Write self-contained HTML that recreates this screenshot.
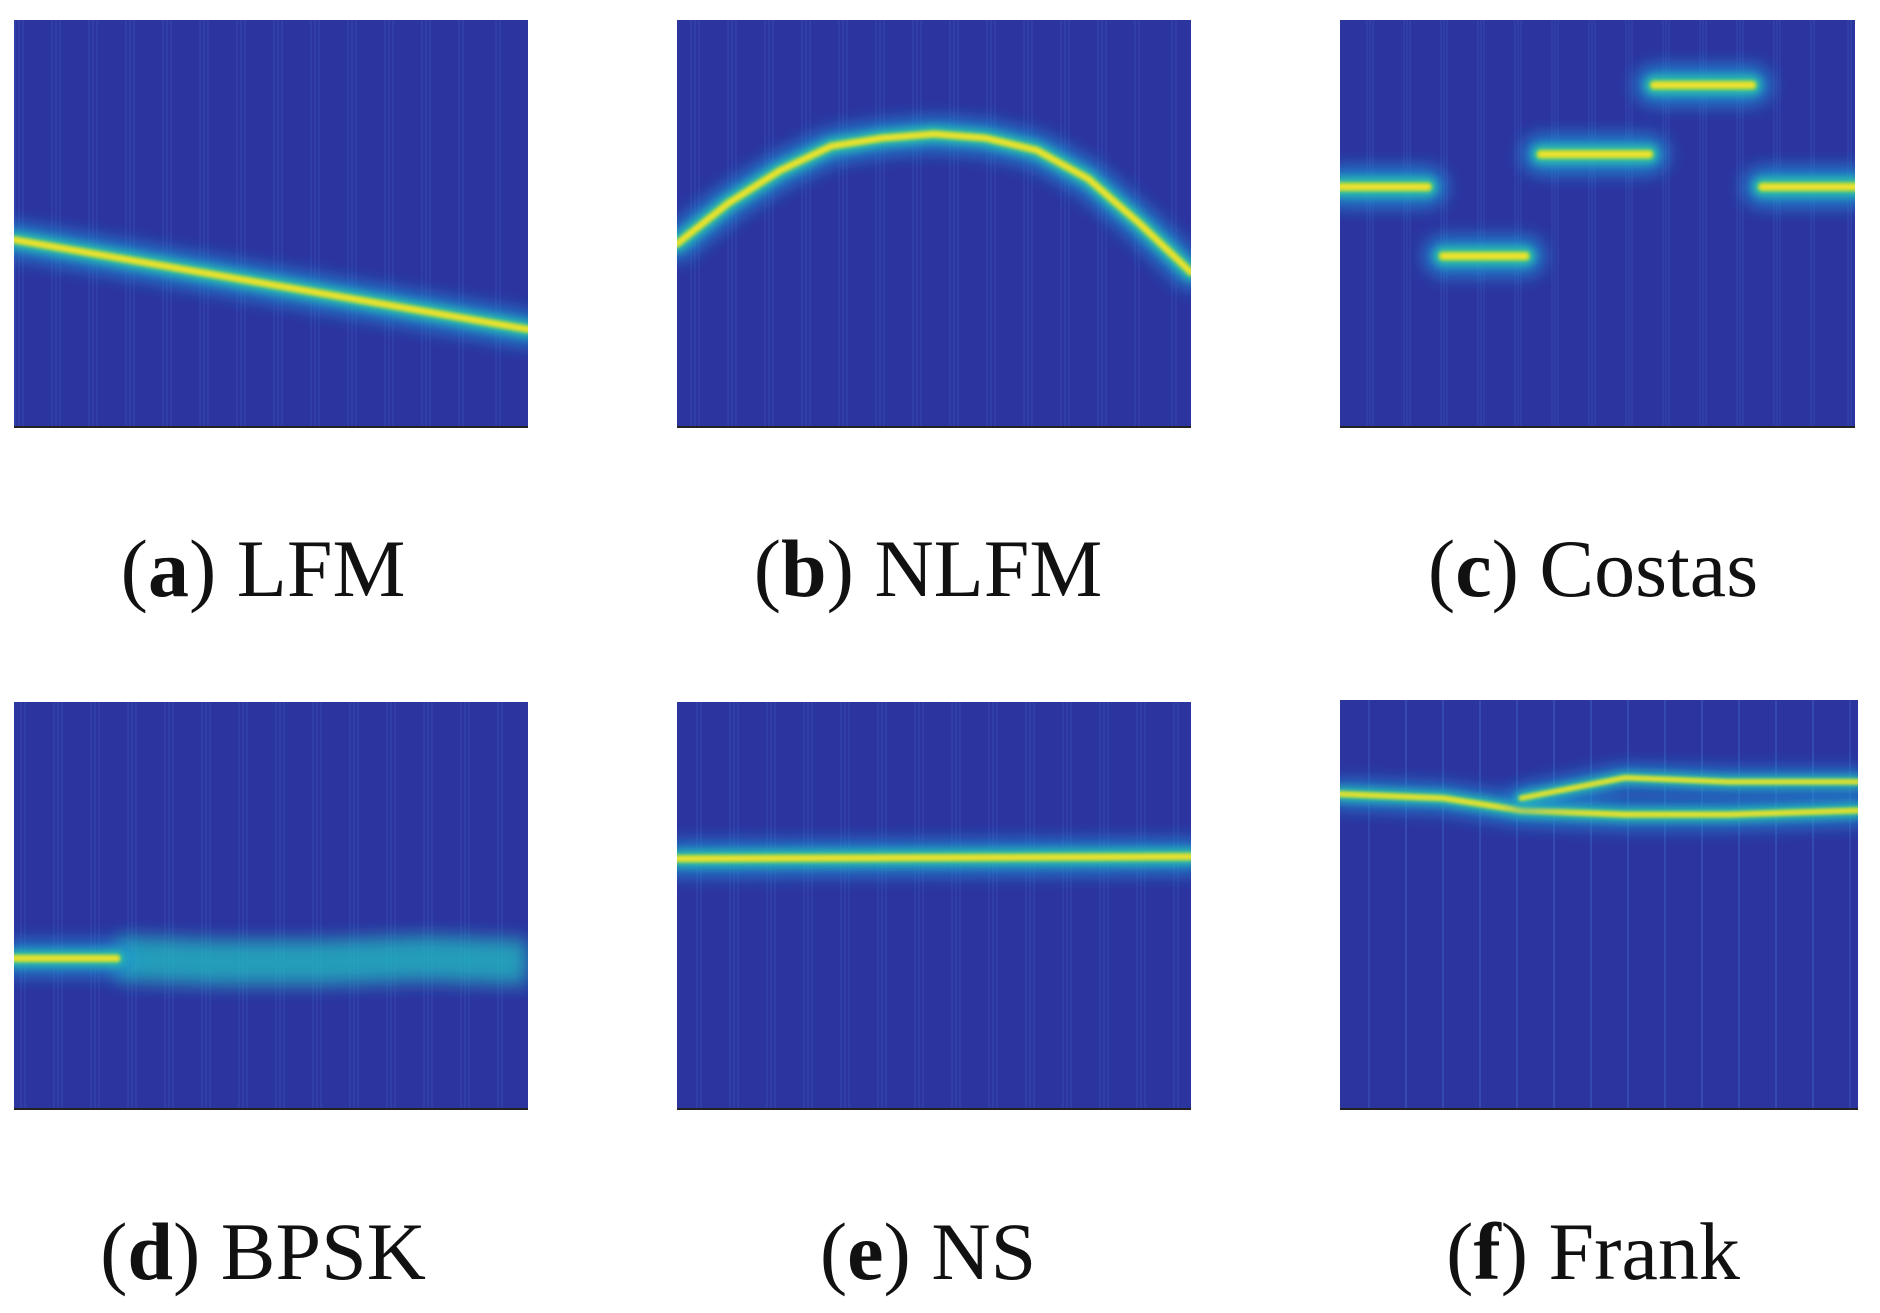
<!DOCTYPE html>
<html><head><meta charset="utf-8">
<style>
body{margin:0;background:#fff;width:1880px;height:1313px;overflow:hidden;position:relative;font-family:"Liberation Serif",serif}
.lbl{position:absolute;font-size:82px;color:#111;white-space:nowrap;transform:translateX(-50%)}
svg{position:absolute;left:0;top:0}
</style></head>
<body>
<svg id="fig" width="1880" height="1313">
<defs>
<filter id="b1" filterUnits="userSpaceOnUse" x="0" y="0" width="1880" height="1313"><feGaussianBlur stdDeviation="9"/></filter>
<filter id="b2" filterUnits="userSpaceOnUse" x="0" y="0" width="1880" height="1313"><feGaussianBlur stdDeviation="4"/></filter>
<filter id="b3" filterUnits="userSpaceOnUse" x="0" y="0" width="1880" height="1313"><feGaussianBlur stdDeviation="1.5"/></filter>
</defs>
</svg>
<div class="lbl" style="left:263px;top:522px">(<b>a</b>) LFM</div>
<div class="lbl" style="left:928px;top:522px">(<b>b</b>) NLFM</div>
<div class="lbl" style="left:1593px;top:522px">(<b>c</b>) Costas</div>
<div class="lbl" style="left:263px;top:1205px">(<b>d</b>) BPSK</div>
<div class="lbl" style="left:928px;top:1205px">(<b>e</b>) NS</div>
<div class="lbl" style="left:1593px;top:1205px">(<b>f</b>) Frank</div>
<script>
// ridge data: normalized x (0..1) and y (0 top .. 1 bottom)
const lfmX=[0,1];
const lfmY=[0.54,0.76];
const nlfmX=[0,0.1,0.2,0.3,0.4,0.5,0.6,0.7,0.8,0.9,1];
const nlfmY=[0.55,0.45,0.37,0.31,0.29,0.28,0.29,0.32,0.39,0.5,0.62];
const costasStart=[0,0.2,0.39,0.61,0.82];
const costasEnd=[0.17,0.36,0.6,0.8,1];
const costasY=[0.41,0.58,0.33,0.16,0.41];
const bpskX=[0,0.2,0.4,0.6,0.8,1];
const bpskY=[0.63,0.63,0.64,0.64,0.63,0.64];
const nsX=[0,1];
const nsY=[0.385,0.38];
const frankX=[0,0.2,0.35,0.55,0.75,1];
const frankY=[0.23,0.24,0.27,0.28,0.28,0.27];
const frankUpX=[0.35,0.55,0.75,1];
const frankUpY=[0.24,0.19,0.2,0.2];

const panels=[
 {name:'lfm',x:14,y:20,w:514,h:407},
 {name:'nlfm',x:677,y:20,w:514,h:407},
 {name:'costas',x:1340,y:20,w:515,h:407},
 {name:'bpsk',x:14,y:702,w:514,h:407},
 {name:'ns',x:677,y:702,w:514,h:407},
 {name:'frank',x:1340,y:700,w:518,h:409}
];
const svg=document.getElementById('fig');
const NS='http://www.w3.org/2000/svg';
function mk(t,a,p){const e=document.createElementNS(NS,t);for(const k in a)e.setAttribute(k,a[k]);(p||svg).appendChild(e);return e;}
function sx(p,v){return p.x+v*p.w;}
function sy(p,v){return p.y+v*p.h;}
function ridge(g,p,xs,ys,w,nm){
  const pts=xs.map((x,i)=>sx(p,x)+','+sy(p,ys[i])).join(' ');
  const layers=[['#1e9bd8',w*3.2,'b1',0.8],['#2bc5a6',w*1.6,'b2',0.9],['#9fd64a',w*0.8,'b3',1],['#f6e32a',w*0.4,'b3',1]];
  layers.forEach(l=>{
    const e=mk('polyline',{points:pts,fill:'none',stroke:l[0],'stroke-width':l[1],filter:'url(#'+l[2]+')',opacity:l[3],'stroke-linecap':'round'},g);
    
    
  });
}
panels.forEach((p,pi)=>{
  const g=mk('g',{});
  
  
  const clip=mk('clipPath',{id:'c'+pi},svg.querySelector('defs'));
  mk('rect',{x:p.x,y:p.y,width:p.w,height:p.h},clip);
  g.setAttribute('clip-path','url(#c'+pi+')');
  const bg=mk('rect',{x:p.x,y:p.y,width:p.w,height:p.h,fill:'#2c34a0'},g);
  
  
  for(let k=0;k<40;k++){
    const xx=p.x+((k*37+pi*13)%p.w);
    mk('rect',{x:xx,y:p.y,width:2,height:p.h,fill:'#3a52b8',opacity:0.35},g);
  }
  if(p.name==='lfm') ridge(g,p,lfmX,lfmY,10,'lfm-ridge');
  if(p.name==='nlfm') ridge(g,p,nlfmX,nlfmY,10,'nlfm-ridge');
  if(p.name==='costas') costasY.forEach((y,i)=>ridge(g,p,[costasStart[i],costasEnd[i]],[y,y],12,'costas-hop-'+i));
  if(p.name==='bpsk'){
    const pts=bpskX.slice(1).map((x,i)=>sx(p,x)+','+sy(p,bpskY[i+1])).join(' ');
    const e=mk('polyline',{points:pts,fill:'none',stroke:'#22b8c0','stroke-width':45,filter:'url(#b1)',opacity:0.8},g);
    
    
    ridge(g,p,bpskX.slice(0,2),bpskY.slice(0,2),10,'bpsk-ridge');
  }
  if(p.name==='ns') ridge(g,p,nsX,nsY,10,'ns-ridge');
  if(p.name==='frank'){ ridge(g,p,frankX,frankY,8,'frank-ridge'); ridge(g,p,frankUpX,frankUpY,7,'frank-upper-ridge'); }
  const ax=mk('line',{x1:p.x,y1:p.y+p.h,x2:p.x+p.w,y2:p.y+p.h,stroke:'#222','stroke-width':2},svg);
  
  
});
</script>
</body></html>
